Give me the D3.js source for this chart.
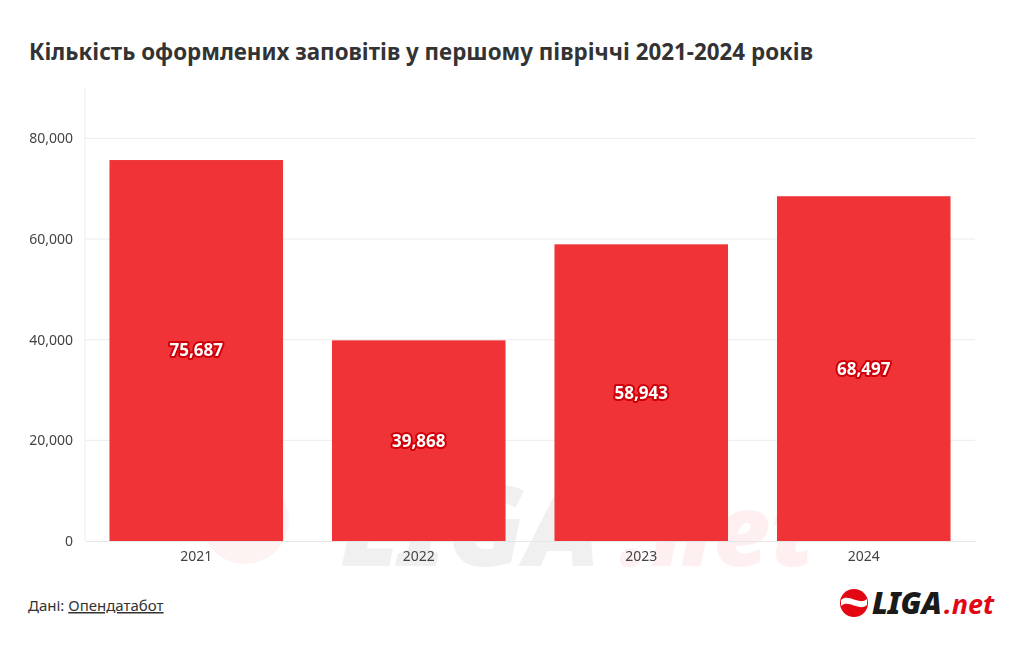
<!DOCTYPE html>
<html>
<head>
<meta charset="utf-8">
<script src="https://cdn.jsdelivr.net/npm/d3@7"></script>
<style>
  body { margin: 0; background: #fff; }
  svg { font-family: "Noto Sans", "Open Sans", sans-serif; }
</style>
</head>
<body>
<div id="chart"></div>
<script>
const years = ['2021', '2022', '2023', '2024'];
const wills = [75687, 39868, 58943, 68497];
const yTicks = [0, 20000, 40000, 60000, 80000];

const W = 1020, H = 650;
const margin = {top: 88, right: 45, bottom: 109, left: 85};
const width = W - margin.left - margin.right;
const height = H - margin.top - margin.bottom;
const font = '"Noto Sans", "Open Sans", sans-serif';

const svg = d3.select('#chart').append('svg')
  .attr('width', W)
  .attr('height', H);

// title
svg.append('text')
  .attr('x', 29)
  .attr('y', 60)
  .attr('font-size', 23)
  .attr('font-weight', 700)
  .attr('fill', '#333')
  .attr('textLength', 784)
  .attr('lengthAdjust', 'spacingAndGlyphs')
  .text('Кількість оформлених заповітів у першому півріччі 2021-2024 років');

const g = svg.append('g')
  .attr('transform', `translate(${margin.left},${margin.top})`);

let x = d3.scaleBand().domain(years).range([0, width]).paddingInner(0.22).paddingOuter(0.11);
let y = d3.scaleLinear().domain([0, 90000]).range([height, 0]);

// faint watermark behind the bars
const wm = g.append('g').attr('opacity', 0.06);
wm.append('circle').attr('cx', 160).attr('cy', 432).attr('r', 44).attr('fill', '#e30613').attr('opacity', 0.8);
wm.append('text')
  .attr('x', 255).attr('y', 478)
  .attr('font-size', 112).attr('font-weight', 900).attr('font-style', 'italic')
  .attr('fill', '#000')
  .text('LIGA');
wm.append('text')
  .attr('x', 535).attr('y', 478)
  .attr('font-size', 100).attr('font-weight', 900).attr('font-style', 'italic')
  .attr('fill', '#e30613')
  .text('.net');

// grid
g.append('g')
  .selectAll('line')
  .data(yTicks.slice(1))
  .enter()
  .append('line')
  .attr('x1', 0)
  .attr('x2', width)
  .attr('y1', d => y(d))
  .attr('y2', d => y(d))
  .attr('stroke', '#ececec');

g.append('line')
  .attr('x1', 0).attr('x2', 0)
  .attr('y1', 0).attr('y2', height)
  .attr('stroke', '#ececec');

// bars
g.append('g')
  .selectAll('rect')
  .data(wills)
  .enter()
  .append('rect')
  .attr('x', (d, i) => x(years[i]))
  .attr('y', d => y(d))
  .attr('width', x.bandwidth())
  .attr('height', d => height - y(d))
  .attr('fill', '#f03337');

// value labels
g.append('g')
  .selectAll('text')
  .data(wills)
  .enter()
  .append('text')
  .attr('x', (d, i) => x(years[i]) + x.bandwidth() / 2)
  .attr('y', d => (y(d) + height) / 2)
  .attr('dy', '0.35em')
  .attr('text-anchor', 'middle')
  .attr('font-size', 17)
  .attr('font-weight', 700)
  .attr('fill', '#fff')
  .attr('stroke', '#cf000a')
  .attr('stroke-width', 4)
  .attr('paint-order', 'stroke')
  .attr('stroke-linejoin', 'round')
  .text(d => d3.format(',')(d));

// axes
const yAxis = g.append('g')
  .call(d3.axisLeft(y).tickValues(yTicks).tickFormat(d3.format(',')).tickSize(0).tickPadding(12))
  .attr('font-family', font);
yAxis.select('.domain').remove();
yAxis.selectAll('text').attr('font-size', 14).attr('fill', '#444');

const xAxis = g.append('g')
  .attr('transform', `translate(0,${height})`)
  .call(d3.axisBottom(x).tickSize(0).tickPadding(10))
  .attr('font-family', font);
xAxis.select('.domain').attr('stroke', '#e6e6e6');
xAxis.selectAll('text').attr('font-size', 14).attr('fill', '#444');

// source
const src = svg.append('text')
  .attr('x', 28)
  .attr('y', 611)
  .attr('font-size', 15)
  .attr('fill', '#333');
src.append('tspan').text('Дані: ');
src.append('tspan').attr('text-decoration', 'underline').text('Опендатабот');

// logo
const logo = svg.append('g').attr('transform', 'translate(854,603)');
logo.append('circle').attr('cx', 0).attr('cy', 0).attr('r', 14).attr('fill', '#e30613');
logo.append('path')
  .attr('d', 'M-13,-3 C-5,-10 5,3 13,-4 L13,2 C5,9 -5,-4 -13,3 Z')
  .attr('fill', '#fff');
logo.append('text')
  .attr('x', 18).attr('y', 11)
  .attr('font-size', 30).attr('font-weight', 900).attr('font-style', 'italic')
  .attr('fill', '#1a1a1a')
  .text('LIGA');
logo.append('text')
  .attr('x', 90).attr('y', 11)
  .attr('font-size', 27).attr('font-weight', 700).attr('font-style', 'italic')
  .attr('fill', '#e30613')
  .text('.net');
</script>
</body>
</html>
